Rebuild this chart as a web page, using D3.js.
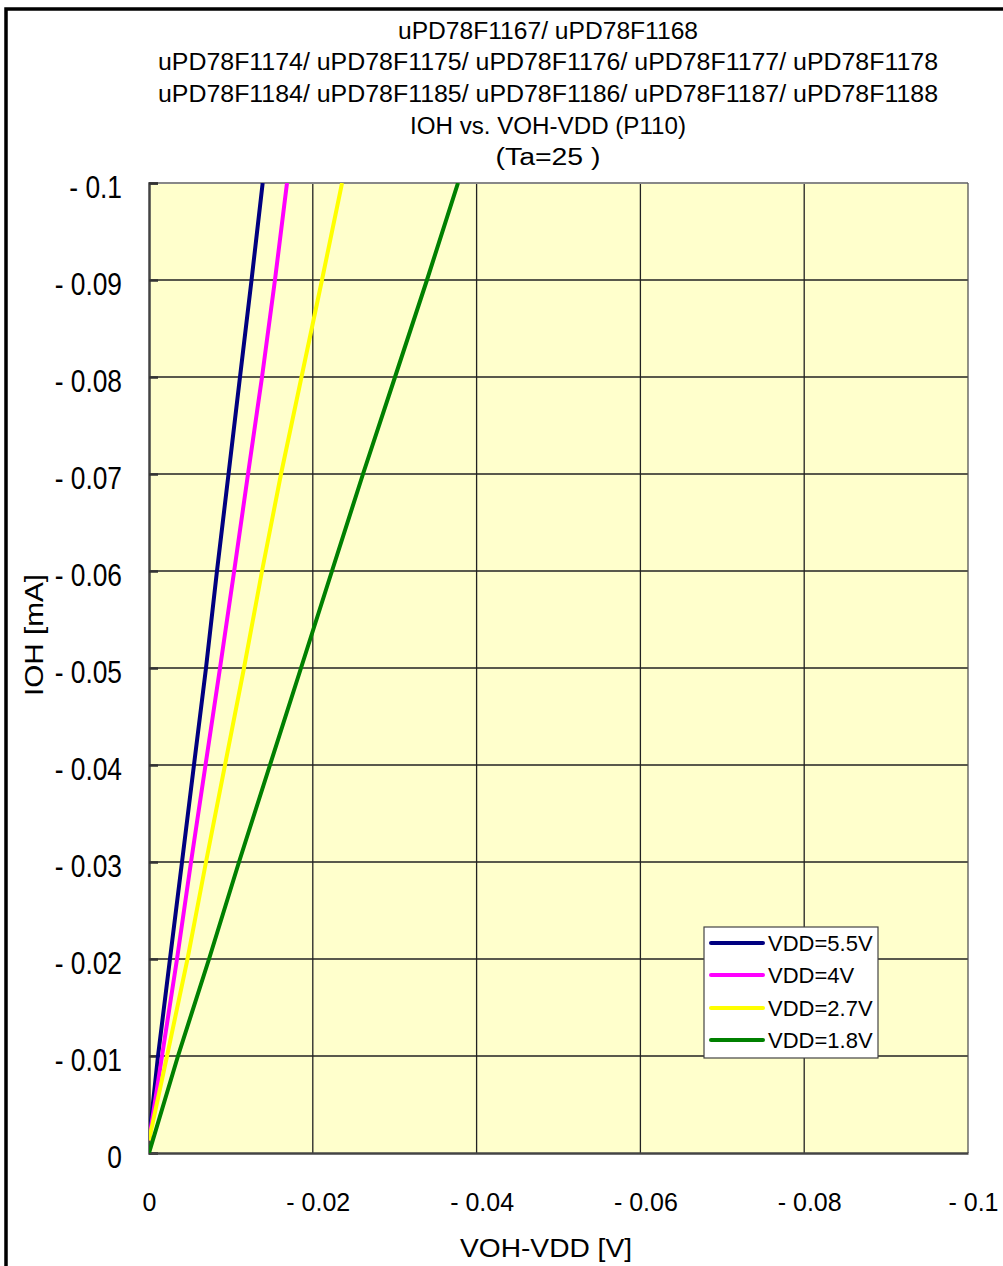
<!DOCTYPE html>
<html>
<head>
<meta charset="utf-8">
<script src="https://cdn.jsdelivr.net/npm/d3@7"></script>
<style>
  html, body { margin: 0; padding: 0; background: #fff; }
  svg { display: block; }
  text { font-family: "Liberation Sans", Arial, sans-serif; fill: #000; }
</style>
</head>
<body>
<svg id="chart" width="1003" height="1266"></svg>
<script>
// ---- data ----
const titleLines = [
  "uPD78F1167/ uPD78F1168",
  "uPD78F1174/ uPD78F1175/ uPD78F1176/ uPD78F1177/ uPD78F1178",
  "uPD78F1184/ uPD78F1185/ uPD78F1186/ uPD78F1187/ uPD78F1188",
  "IOH vs. VOH-VDD (P110)",
  "(Ta=25    )"
];
const xTicks = [0, -0.02, -0.04, -0.06, -0.08, -0.1];
const xTickLabels = ["0", "- 0.02", "- 0.04", "- 0.06", "- 0.08", "- 0.1"];
const yTicks = [0, -0.01, -0.02, -0.03, -0.04, -0.05, -0.06, -0.07, -0.08, -0.09, -0.1];
const yTickLabels = ["0", "- 0.01", "- 0.02", "- 0.03", "- 0.04", "- 0.05", "- 0.06", "- 0.07", "- 0.08", "- 0.09", "- 0.1"];
const seriesNames = ["VDD=5.5V", "VDD=4V", "VDD=2.7V", "VDD=1.8V"];
const seriesColors = ["#000080", "#FF00FF", "#FFFF00", "#008000"];

// IOH [mA]
const ioh55 = [-0.0013, -0.01, -0.02, -0.03, -0.04, -0.05, -0.06, -0.07, -0.08, -0.09, -0.1];
const ioh40 = [-0.0013, -0.01, -0.02, -0.03, -0.04, -0.05, -0.06, -0.07, -0.08, -0.09, -0.1];
const ioh27 = [-0.0013, -0.01, -0.02, -0.03, -0.04, -0.05, -0.06, -0.07, -0.08, -0.09, -0.1];
const ioh18 = [0, -0.01, -0.02, -0.03, -0.04, -0.05, -0.06, -0.07, -0.08, -0.09, -0.1];
// VOH-VDD [V]
const voh55 = [0, -0.0011, -0.00256, -0.00403, -0.00549, -0.00696, -0.0083, -0.00971, -0.01111, -0.01252, -0.01388];
const voh40 = [0, -0.00159, -0.00342, -0.00513, -0.0069, -0.00867, -0.0104, -0.01209, -0.0138, -0.01538, -0.01685];
const voh27 = [0, -0.0022, -0.0047, -0.00696, -0.00928, -0.0116, -0.0138, -0.01612, -0.01862, -0.02112, -0.02357];
const voh18 = [0, -0.00354, -0.00733, -0.01099, -0.01477, -0.01856, -0.02234, -0.02613, -0.03004, -0.03394, -0.03773];

const seriesX = [voh55, voh40, voh27, voh18];
const seriesY = [ioh55, ioh40, ioh27, ioh18];

// ---- layout ----
const svg = d3.select("#chart");
const L = 149, R = 968, T = 183, B = 1153;

const x = d3.scaleLinear().domain([0, -0.1]).range([L, R]);
const y = d3.scaleLinear().domain([0, -0.1]).range([B, T]);

// outer frame
svg.append("rect").attr("x", 6).attr("y", 9).attr("width", 1100).attr("height", 1400)
  .attr("fill", "none").attr("stroke", "#000").attr("stroke-width", 3.5);

// title
const titleW = [300, 780, 780, 276, 105];
const titleG = svg.append("g");
titleLines.forEach((t, i) => {
  titleG.append("text")
    .attr("x", 548).attr("y", 38.5 + i * 31.7)
    .attr("text-anchor", "middle")
    .attr("font-size", 23)
    .attr("textLength", titleW[i])
    .attr("lengthAdjust", "spacingAndGlyphs")
    .text(t);
});

// plot background
svg.append("rect").attr("x", L).attr("y", T).attr("width", R - L).attr("height", B - T)
  .attr("fill", "#FFFFCC");

// grid
const grid = svg.append("g");
grid.selectAll("line.gx").data(xTicks.slice(1, -1)).join("line")
  .attr("x1", d => x(d)).attr("x2", d => x(d)).attr("y1", T).attr("y2", B)
  .attr("stroke", "#222").attr("stroke-width", 1.3);
grid.selectAll("line.gy").data(yTicks.slice(1, -1)).join("line")
  .attr("y1", d => y(d)).attr("y2", d => y(d)).attr("x1", L).attr("x2", R)
  .attr("stroke", "#222").attr("stroke-width", 1.3);

// plot border
svg.append("line").attr("x1", L).attr("x2", R).attr("y1", T).attr("y2", T).attr("stroke", "#888").attr("stroke-width", 2);
svg.append("line").attr("x1", R).attr("x2", R).attr("y1", T).attr("y2", B).attr("stroke", "#555").attr("stroke-width", 1.3);

// axes using d3
const ySx = 0.85;
const yAxis = d3.axisLeft(y).tickValues(yTicks).tickSize(-9).tickFormat((d, i) => yTickLabels[i]).tickPadding(26);
const yG = svg.append("g").attr("transform", `translate(${L},0)`).call(yAxis);
yG.select(".domain").attr("stroke", "#444").attr("stroke-width", 2.5);
yG.selectAll(".tick line").attr("stroke", "#333").attr("stroke-width", 2.5);
yG.selectAll(".tick text").attr("font-size", 31).attr("font-family", "Liberation Sans, Arial, sans-serif")
  .attr("dy", "0.36em").attr("y", 3).attr("x", -27 / ySx).attr("transform", `scale(${ySx},1)`);

const xAxis = d3.axisBottom(x).tickValues(xTicks).tickSize(0).tickFormat((d, i) => xTickLabels[i]).tickPadding(38);
const xG = svg.append("g").attr("transform", `translate(0,${B})`).call(xAxis);
xG.select(".domain").attr("stroke", "#444").attr("stroke-width", 2.5);
xG.selectAll(".tick text").attr("font-size", 25).attr("font-family", "Liberation Sans, Arial, sans-serif")
  .attr("dx", (d, i) => i === 0 ? 0 : 5).attr("y", 40);

// axis titles
svg.append("text").attr("x", 546).attr("y", 1257).attr("text-anchor", "middle")
  .attr("font-size", 25).attr("textLength", 172).attr("lengthAdjust", "spacingAndGlyphs")
  .text("VOH-VDD [V]");
svg.append("text").attr("transform", "translate(43,635) rotate(-90)").attr("text-anchor", "middle")
  .attr("font-size", 25).attr("textLength", 122).attr("lengthAdjust", "spacingAndGlyphs")
  .text("IOH [mA]");

// series lines
svg.append("clipPath").attr("id", "clip").append("rect")
  .attr("x", L).attr("y", T).attr("width", R - L).attr("height", B - T);
const line = d3.line().x(d => x(d[0])).y(d => y(d[1]));
const linesG = svg.append("g").attr("clip-path", "url(#clip)");
seriesX.forEach((xs, s) => {
  const pts = xs.map((v, i) => [v, seriesY[s][i]]);
  linesG.append("path").datum(pts).attr("d", line)
    .attr("fill", "none").attr("stroke", seriesColors[s]).attr("stroke-width", 4)
    .attr("stroke-linejoin", "round");
});

// legend
const lg = svg.append("g");
lg.append("rect").attr("x", 704).attr("y", 927).attr("width", 174).attr("height", 131)
  .attr("fill", "#fff").attr("stroke", "#444").attr("stroke-width", 1.2);
const legY = [943, 975, 1008, 1040];
seriesNames.forEach((n, i) => {
  lg.append("line").attr("x1", 711).attr("x2", 763).attr("y1", legY[i]).attr("y2", legY[i])
    .attr("stroke", seriesColors[i]).attr("stroke-width", 4).attr("stroke-linecap", "round");
  lg.append("text").attr("x", 768).attr("y", legY[i]).attr("dy", "0.36em")
    .attr("font-size", 22).text(n);
});
</script>
</body>
</html>
